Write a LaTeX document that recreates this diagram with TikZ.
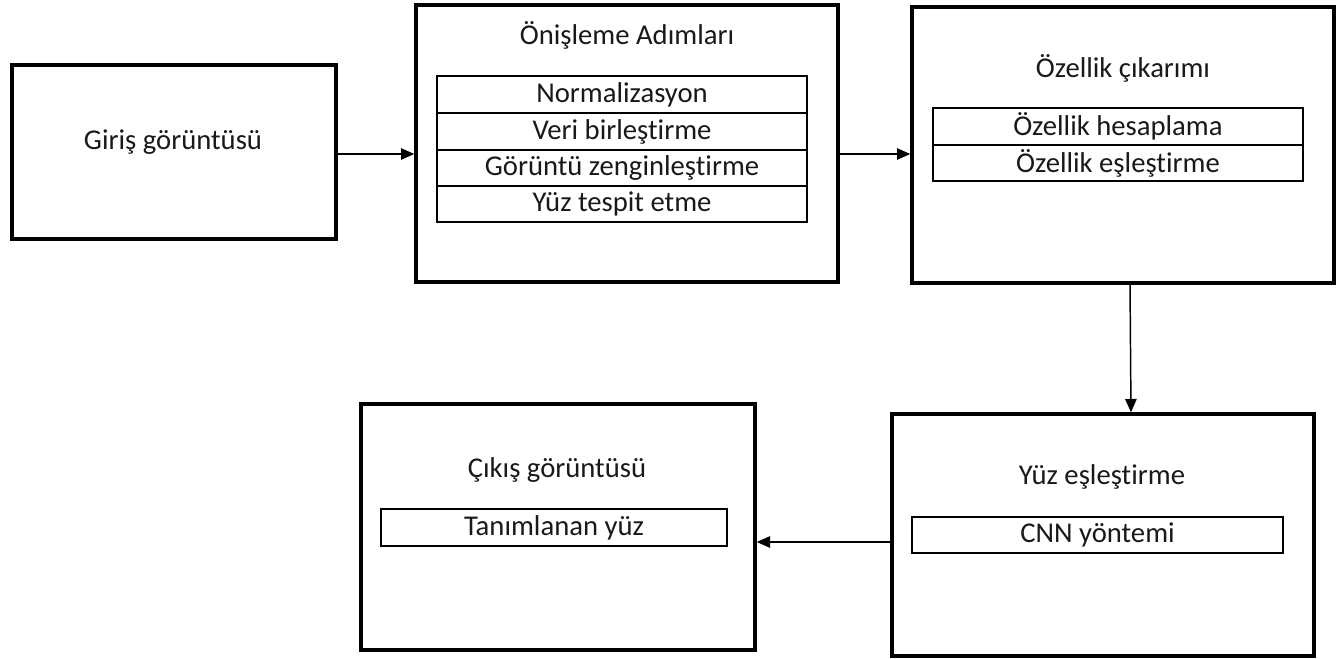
\documentclass[tikz,border=0pt]{standalone}
\usepackage{fontspec}
\setmainfont{Carlito}[RawFeature={-liga;-clig;-dlig}]
\usetikzlibrary{fit,arrows.meta}
\begin{document}
\begin{tikzpicture}[x=0.75pt,y=-0.75pt,
  outer/.style={draw, line width=2.5pt, inner sep=0pt},
  row/.style={draw, line width=1.2pt, inner sep=0pt},
  txt/.style={font=\fontsize{21.5}{25}\selectfont, inner sep=0pt, text=black!90},
  arr/.style={line width=1.1pt, -{Triangle[length=10pt,width=8.5pt]}}]
\useasboundingbox (0,0) rectangle (1341,658);
% outer boxes
\node[outer, fit={(12,65) (336,239)}] (b1) {};
\node[outer, fit={(416,5) (838,282)}] (b2) {};
\node[outer, fit={(912,7) (1334,283)}] (b3) {};
\node[outer, fit={(892,414) (1314,656)}] (b4) {};
\node[outer, fit={(361,404) (755,650)}] (b5) {};
% titles
\node[txt] (t1) at (173,142) {Giriş görüntüsü};
\node[txt] (t2) at (627,35) {Önişleme Adımları};
\node[txt] (t3) at (1123,68) {Özellik çıkarımı};
\node[txt] (t4) at (1102,477) {Yüz eşleştirme};
\node[txt] (t5) at (557,470) {Çıkış görüntüsü};
% inner rows
\node[row, fit={(437,76) (807,113)}] (r21) {};
\node[row, fit={(437,113) (807,150)}] (r22) {};
\node[row, fit={(437,150) (807,186)}] (r23) {};
\node[row, fit={(437,186) (807,222)}] (r24) {};
\node[row, fit={(933,108) (1303,145)}] (r31) {};
\node[row, fit={(933,145) (1303,181)}] (r32) {};
\node[row, fit={(912,517) (1283,553)}] (r41) {};
\node[row, fit={(381,509) (727,546)}] (r51) {};
\node[txt] (l21) at (r21.center) {Normalizasyon};
\node[txt] (l22) at (r22.center) {Veri birleştirme};
\node[txt] (l23) at (r23.center) {Görüntü zenginleştirme};
\node[txt] (l24) at (r24.center) {Yüz tespit etme};
\node[txt] (l31) at (r31.center) {Özellik hesaplama};
\node[txt] (l32) at (r32.center) {Özellik eşleştirme};
\node[txt] (l41) at (r41.center) {CNN yöntemi};
\node[txt] (l51) at (r51.center) {Tanımlanan yüz};
% connectors
\draw[arr] (b1.east |- 0,154) -- (b2.west |- 0,154);
\draw[arr] (b2.east |- 0,154) -- (b3.west |- 0,154);
\draw[arr] (b3.south -| 1130,0) -- (b4.north -| 1131,0);
\draw[arr] (b4.west |- 0,542) -- (b5.east |- 0,542);
\end{tikzpicture}
\end{document}
